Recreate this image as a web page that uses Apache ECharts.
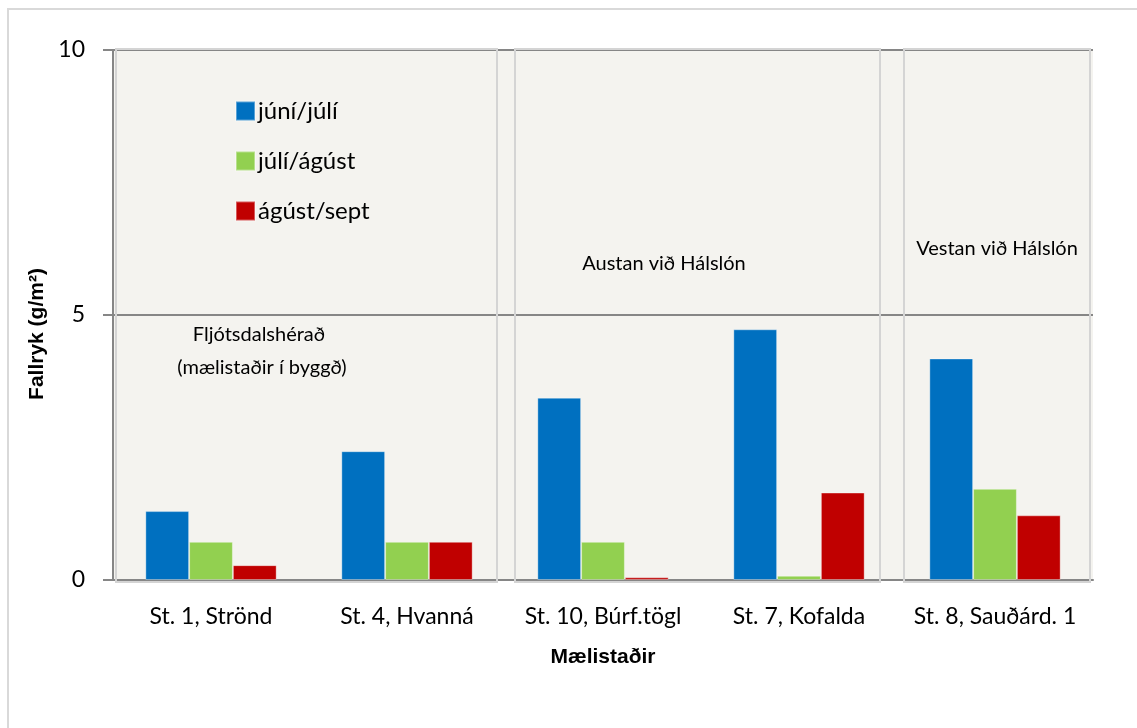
<!DOCTYPE html>
<html>
<head>
<meta charset="utf-8">
<script src="https://cdn.jsdelivr.net/npm/echarts@6/dist/echarts.min.js"></script>
<style>
html,body{margin:0;padding:0;background:#fff;}
#c{width:1137px;height:728px;}
</style>
</head>
<body>
<div id="c"></div>
<script>
const categories = ['St. 1, Strönd', 'St. 4, Hvanná', 'St. 10, Búrf.tögl', 'St. 7, Kofalda', 'St. 8, Sauðárd. 1'];
const seriesNames = ['júní/júlí', 'júlí/ágúst', 'ágúst/sept'];
const juniJuli = [1.30, 2.43, 3.44, 4.73, 4.18];
const juliAgust = [0.72, 0.72, 0.72, 0.08, 1.72];
const agustSept = [0.28, 0.72, 0.05, 1.65, 1.22];
const yTicks = [0, 5, 10];
const groupLabels = [['Fljótsdalshérað', '(mælistaðir í byggð)'], ['Austan við Hálslón'], ['Vestan við Hálslón']];

const colors = ['#0070C0', '#92D050', '#C00000'];
const FONT = 'Lato';

const chart = echarts.init(document.getElementById('c'), null, {renderer: 'canvas'});

const seriesData = [juniJuli, juliAgust, agustSept];

chart.setOption({
  animation: false,
  backgroundColor: '#ffffff',
  grid: {
    left: 113, top: 50, right: 44, bottom: 148,
    show: true, backgroundColor: '#F4F3EF', borderWidth: 0
  },
  legend: {
    orient: 'vertical',
    left: 235, top: 99,
    padding: 0,
    itemWidth: 19, itemHeight: 19,
    itemGap: 26,
    icon: 'rect',
    textStyle: {fontFamily: FONT, fontSize: 24, color: '#000', padding: [0, 0, 0, -2]},
    data: seriesNames
  },
  xAxis: {
    type: 'category',
    data: categories,
    name: 'Mælistaðir',
    nameLocation: 'middle',
    nameGap: 67,
    nameTextStyle: {fontFamily: 'Liberation Sans', fontWeight: 'bold', fontSize: 21, color: '#000'},
    axisLine: {show: true, lineStyle: {color: '#868686', width: 2}},
    axisTick: {show: false},
    axisLabel: {fontFamily: FONT, fontSize: 23, color: '#000', margin: 25, interval: 0, hideOverlap: false}
  },
  yAxis: {
    type: 'value',
    min: 0, max: 10, interval: 5,
    axisLine: {show: true, lineStyle: {color: '#868686', width: 2}},
    axisTick: {show: true, length: 10, lineStyle: {color: '#868686', width: 2}},
    axisLabel: {fontFamily: FONT, fontSize: 23, color: '#000', margin: 28,
      formatter: v => yTicks.includes(v) ? String(v) : ''},
    splitLine: {show: true, lineStyle: {color: '#868686', width: 2}}
  },
  series: seriesNames.map((n, i) => ({
    name: n,
    type: 'bar',
    data: seriesData[i],
    barGap: '0%',
    barCategoryGap: '33%',
    itemStyle: {color: colors[i], borderColor: 'rgba(255,255,255,0.35)', borderWidth: 1}
  }))
});

function px(idx) { return chart.convertToPixel({xAxisIndex: 0}, idx); }
function py(v) { return chart.convertToPixel({yAxisIndex: 0}, v); }

const half = (px(1) - px(0)) / 2;
const gLeft = px(0) - half;
const gRight = px(categories.length - 1) + half;
const yTop = py(10) - 1;
const yBot = py(0) + 2;

const boxEdges = [
  [gLeft + 3, px(1) + half - 8],
  [px(2) - half + 10, px(3) + half - 17],
  [px(4) - half + 7, gRight - 3]
];

const graphics = [];
graphics.push({
  type: 'rect', z: -10, silent: true,
  shape: {x: 8, y: 9, width: 1140, height: 730},
  style: {fill: 'none', stroke: '#D9D9D9', lineWidth: 2}
});
boxEdges.forEach(([a, b]) => {
  graphics.push({
    type: 'rect', z: 1, silent: true,
    shape: {x: a, y: yTop, width: b - a, height: yBot - yTop},
    style: {fill: 'none', stroke: '#D4D4D4', lineWidth: 2}
  });
});

const labelPos = [
  [[259, 335], [262, 368]],
  [[664, 264]],
  [[997, 249]]
];
groupLabels.forEach((lines, gi) => {
  lines.forEach((t, li) => {
    graphics.push({
      type: 'text', z: 100, silent: true,
      x: labelPos[gi][li][0], y: labelPos[gi][li][1],
      style: {text: t, fontFamily: FONT, fontSize: 20, fill: '#000', align: 'center', verticalAlign: 'middle'}
    });
  });
});

graphics.push({
  type: 'text', z: 100, silent: true,
  x: 37, y: 334, rotation: Math.PI / 2,
  style: {text: 'Fallryk (g/m²)', fontFamily: 'Liberation Sans', fontWeight: 'bold', fontSize: 21, fill: '#000', align: 'center', verticalAlign: 'middle'}
});

chart.setOption({graphic: graphics});
</script>
</body>
</html>
